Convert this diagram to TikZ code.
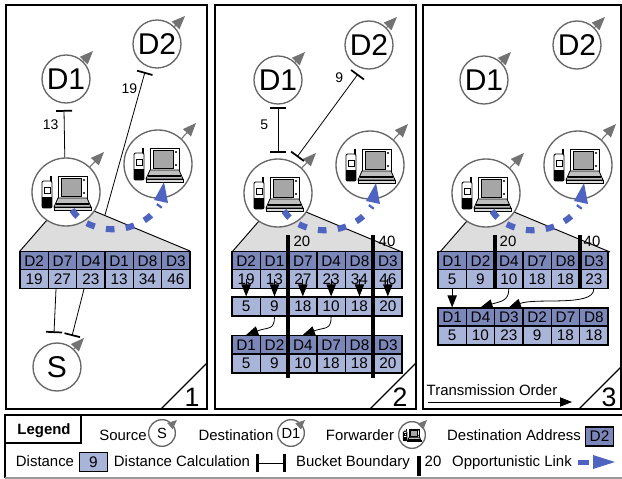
\documentclass[tikz,border=0pt]{standalone}
\usepackage{fontspec}
\setmainfont{Liberation Sans}
\usetikzlibrary{arrows.meta,calc}

\definecolor{celldark}{HTML}{7C87B9}
\definecolor{celllight}{HTML}{A9B4D9}
\definecolor{linkblue}{HTML}{4F64C0}
\definecolor{wedgegray}{HTML}{DDDDDD}

\tikzset{
    panel/.style={draw,line width=1.4pt},
    station/.style={circle,draw=black!60,fill=white,line width=1pt,inner sep=0pt,minimum size=36pt,font=\fontsize{22.5}{24}\selectfont},
    forwarder/.style={circle,draw=black!60,fill=white,line width=1pt,inner sep=0pt,minimum size=51pt},
    smallstation/.style={circle,draw=black!60,fill=white,line width=1pt,inner sep=0pt,minimum size=20pt,font=\fontsize{11}{12}\selectfont},
    moving/.style={draw=black!55,line width=.8pt,-{Triangle[length=10pt,width=8pt,fill=black!55]}},
    smallmoving/.style={draw=black!55,line width=.8pt,-{Triangle[length=7pt,width=6pt,fill=black!55]}},
    dark/.style={draw,line width=1.1pt,fill=celldark,inner sep=0pt,minimum width=21.25pt,minimum height=14pt,font=\fontsize{11.5}{12}\selectfont},
    light/.style={dark,fill=celllight},
    dist/.style={line width=.6pt,-{Bar[width=12pt,line width=1.3pt]}},
    distboth/.style={line width=.6pt,{Bar[width=12pt,line width=1.3pt]}-{Bar[width=12pt,line width=1.3pt]}},
    flow/.style={line width=.6pt,-{Triangle[length=9pt,width=7pt]}},
    bucket/.style={line width=2.8pt},
    link/.style={draw=linkblue,line width=4.6pt,dash pattern=on 6.5pt off 8.5pt},
    txt/.style={inner sep=0pt,text height=8.5pt,text depth=2.5pt,font=\fontsize{11.2}{12}\selectfont},
    numlab/.style={inner sep=0pt,font=\fontsize{10.5}{12}\selectfont},
    cornernum/.style={inner sep=0pt,font=\fontsize{20}{20}\selectfont},
    devices/.pic={
        \draw[line width=.7pt,fill=white] (-8,-16) rectangle (21,6);
        \draw[line width=.5pt,fill=black!35] (-5,-14) rectangle (15,4);
        \fill[black] (18,-12) circle (1.2) (18,1) circle (1.2);
        \draw[line width=.6pt,fill=black!25] (-8,6) -- (21,6) -- (25,15) -- (-12,15) -- cycle;
        \fill[black] (-10,11) rectangle (23,12.5);
        \draw[line width=.6pt,fill=black!15] (-12,15) rectangle (25,18);
        \draw[line width=.8pt] (-15,-10) -- (-15,-16);
        \draw[line width=.7pt,fill=white,rounded corners=1pt] (-24,-11) rectangle (-14,16);
        \draw[line width=.5pt] (-22,-5) rectangle (-16,1);
        \fill[black] (-24,5) rectangle (-14,16);
    }
}

\newcommand{\tabrow}[5]{
    \foreach \val [count=\i] in {#5}
        \node[#4] (#1\i) at ({#2+28.33*(\i-.5)},#3) {\val};
}
\newcommand{\mobile}[4][moving]{
    \coordinate (#2m) at ($(#2)+(#3,#4)$);
    \draw[#1] (#2) -- (#2m);
}
\newcommand{\scene}[4]{
    \begin{scope}[shift={(#2,#3)}]
        \fill[wedgegray] (20,251) -- (47,220) -- (94,211) -- (190,251) -- cycle;
        \draw[line width=.7pt] (20,251) -- (47,220) (94,211) -- (190,251);
        \node[forwarder] (#1f) at (66,192) {};
        \node[forwarder] (#1g) at (158,164) {};
        \pic at (#1f) {devices};
        \pic at (#1g) {devices};
        \mobile{#1f}{38}{-40}
        \mobile{#1g}{38}{-41}
        \draw[link] (72,210) .. controls (88,235) and (138,238) .. (160,205);
        \fill[linkblue] (164,182) -- (154,200) -- (168,203) -- cycle;
    \end{scope}
    \node[station] (#1a) at (#4+66,#3+79) {D1};
    \node[station] (#1b) at (#2+157,#3+44) {D2};
    \mobile{#1a}{27}{-28}
    \mobile{#1b}{28}{-28}
}

\begin{document}
\begin{tikzpicture}[x=.75pt,y=-.75pt]
    \useasboundingbox (0,0) rectangle (622,479);

    \draw[panel] (6,5) rectangle (207,409);
    \draw[panel] (215,5) rectangle (416,409);
    \draw[panel] (423,5) rectangle (621,409);
    \draw[line width=.9pt] (161,409) -- (207,363);
    \draw[line width=.9pt] (370,409) -- (416,363);
    \draw[line width=.9pt] (579,409) -- (621,367);
    \node[cornernum] (one) at (192,397) {1};
    \node[cornernum] (two) at (400,397) {2};
    \node[cornernum] (three) at (609,397) {3};

    % first panel
    \scene{p}{0}{0}{0}
    \tabrow{pa}{20}{261}{dark}{D2,D7,D4,D1,D8,D3}
    \tabrow{pb}{20}{279}{light}{19,27,23,13,34,46}
    \coordinate (pd1) at (64,110);
    \coordinate (pd2a) at (105,215);
    \coordinate (pd2) at (145,72);
    \draw[dist] (pf.92) -- (pd1) node[numlab,pos=.68,left=4pt] (pn1) {13};
    \draw[dist] (pd2a) -- (pd2) node[numlab,pos=.88,left=2pt] (pn2) {19};
    \node[station] (ps) at (57,367) {S};
    \mobile{ps}{27}{-29}
    \coordinate (ps1) at (54,333);
    \coordinate (ps2) at (72,336);
    \draw[dist] (pb2.south -| 56,288) -- (ps1);
    \draw[dist] (pb3.south -| 84,288) -- (ps2);

    % second panel
    \scene{q}{212}{1}{212}
    \tabrow{qa}{232}{261}{dark}{D2,D1,D7,D4,D8,D3}
    \tabrow{qb}{232}{279}{light}{19,13,27,23,34,46}
    \tabrow{qm}{232}{306.5}{light}{5,9,18,10,18,20}
    \tabrow{qc}{232}{345}{dark}{D1,D2,D4,D7,D8,D3}
    \tabrow{qd}{232}{363.5}{light}{5,9,10,18,18,20}
    \foreach \i in {1,...,6}
        \draw[flow] (qb\i.center) -- (qm\i.north);
    \draw[flow] (qm2.south) .. controls +(0,14) and +(22,-8) .. (qc1.north);
    \draw[flow] (qm4.south) .. controls +(0,14) and +(22,-8) .. (qc3.north);
    \coordinate (qt1) at (288,235);
    \coordinate (qt2) at (288,378);
    \coordinate (qu1) at (373,235);
    \coordinate (qu2) at (373,378);
    \draw[bucket] (qt1) -- (qt2);
    \draw[bucket] (qu1) -- (qu2);
    \node[txt] (q20) at (302,242) {20};
    \node[txt] (q40) at (387,242) {40};
    \coordinate (qe1) at (278,107);
    \coordinate (qe2) at (278,153);
    \coordinate (qe3) at (358,74);
    \coordinate (qe4) at (297,157);
    \draw[distboth] (qe1) -- (qe2) node[numlab,pos=.38,left=7pt] (qn1) {5};
    \draw[distboth] (qe3) -- (qe4) node[numlab,pos=.04,left=9pt] (qn2) {9};

    % third panel
    \scene{r}{420}{1}{418}
    \tabrow{ra}{438}{261}{dark}{D1,D2,D4,D7,D8,D3}
    \tabrow{rb}{438}{279}{light}{5,9,10,18,18,23}
    \tabrow{rc}{438}{317.5}{dark}{D1,D4,D3,D2,D7,D8}
    \tabrow{rd}{438}{335.5}{light}{5,10,23,9,18,18}
    \draw[flow] (rb1.south) -- (rc1.north);
    \draw[flow] (rb3.south) .. controls +(0,12) and +(20,-6) .. (rc2.north);
    \draw[flow] (rb6.south) .. controls +(0,18) and +(28,-10) .. (rc3.north);
    \coordinate (rt1) at (495,235);
    \coordinate (rt2) at (495,288);
    \coordinate (ru1) at (580,235);
    \coordinate (ru2) at (580,288);
    \draw[bucket] (rt1) -- (rt2);
    \draw[bucket] (ru1) -- (ru2);
    \node[txt] (r20) at (508,242) {20};
    \node[txt] (r40) at (592,242) {40};
    \node[txt] (order) at (492,391) {Transmission Order};
    \coordinate (ord1) at (428,402);
    \coordinate (ord2) at (572,402);
    \draw[flow] (ord1) -- (ord2);

    % legend
    \draw[line width=1.4pt] (622,415) -- (5,415) -- (5,478);
    \draw[black!40,line width=.8pt] (5,478) -- (622,478);
    \draw[line width=1pt,fill=white] (5,415) rectangle (81,443);
    \node[txt,font=\fontsize{11.2}{12}\selectfont\bfseries] (legend) at (44,430) {Legend};
    \node[txt] (lsrc) at (123,436) {Source};
    \node[smallstation] (ls) at (162,433) {S};
    \mobile[smallmoving]{ls}{15}{-13}
    \node[txt] (ldst) at (236,436) {Destination};
    \node[smallstation] (ld) at (291,433) {D1};
    \mobile[smallmoving]{ld}{14}{-13}
    \node[txt] (lfwd) at (360,436) {Forwarder};
    \node[smallstation] (lf) at (412,435) {};
    \pic[scale=.36] at (lf) {devices};
    \mobile[smallmoving]{lf}{15}{-15}
    \node[txt] (ladr) at (514,436) {Destination Address};
    \node[dark,minimum width=21pt] (lcell) at (599.5,436.5) {D2};
    \node[txt] (ldis) at (45,462) {Distance};
    \node[light,minimum width=21pt] (lnine) at (93.5,462) {9};
    \node[txt] (lcal) at (182,462) {Distance Calculation};
    \coordinate (lc1) at (256,463);
    \coordinate (lc2) at (286,463);
    \draw[line width=.6pt,{Bar[width=14pt,line width=2pt]}-{Bar[width=14pt,line width=2pt]}] (lc1) -- (lc2);
    \node[txt] (lbuk) at (353,462) {Bucket Boundary};
    \coordinate (lb1) at (419,456);
    \coordinate (lb2) at (419,476);
    \draw[bucket] (lb1) -- (lb2);
    \node[txt] (l20) at (433,462) {20};
    \node[txt] (lopp) at (512,462) {Opportunistic Link};
    \fill[linkblue] (578,459.5) rectangle (589,464.5);
    \fill[linkblue] (593,455) -- (615,462) -- (593,469) -- cycle;
\end{tikzpicture}
\end{document}
